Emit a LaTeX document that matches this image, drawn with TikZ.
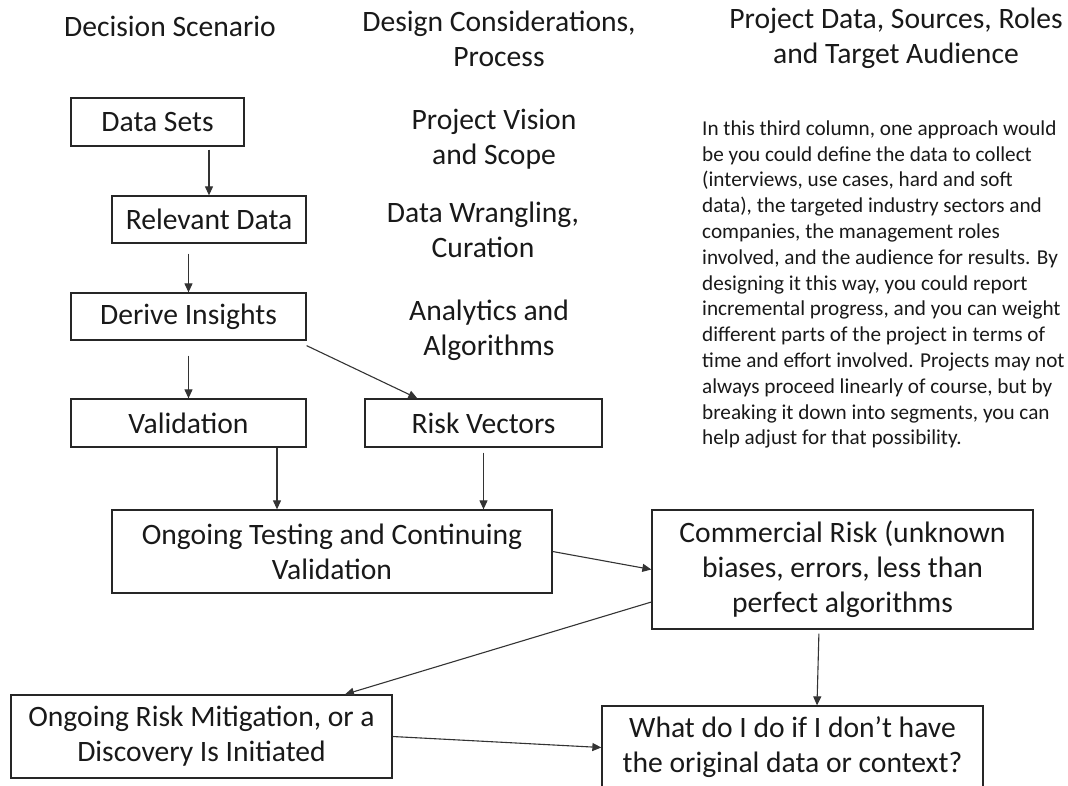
\documentclass[tikz,border=0pt]{standalone}
\usepackage{fontspec}
\setmainfont{Carlito}
\usetikzlibrary{arrows.meta,calc}

\begin{document}
\begin{tikzpicture}[x=1pt,y=-1pt,
  every node/.style={font=\fontsize{29.6}{35}\selectfont, text=black!90, inner sep=0pt},
  box/.style={draw=black!85, line width=1.3pt, align=center},
  arr/.style={draw=black!80, line width=1.1pt, -{Triangle[length=9pt,width=8pt]}},
  heading/.style={align=center},
  para/.style={font=\fontsize{21.2}{25.8}\selectfont, align=left, anchor=north west}
]
\useasboundingbox (0,0) rectangle (1068,785);
\clip (0,0) rectangle (1068,785);

% column headings
\node[heading] (h1) at (170,26) {Decision Scenario};
\node[heading] (h2) at (499,39) {Design Considerations,\\Process};
\node[heading] (h3) at (896,38) {Project Data, Sources, Roles\\and Target Audience};

% middle column: design considerations
\node[heading] (m1) at (494,139) {Project Vision\\and Scope};
\node[heading] (m2) at (483,230) {Data Wrangling,\\Curation};
\node[heading] (m3) at (489,330) {Analytics and\\Algorithms};

% right column: explanatory paragraph
\node[para] (notes) at (702,117) {\strut In this third column, one approach would\\
be you could define the data to collect\\
(interviews, use cases, hard and soft\\
data), the targeted industry sectors and\\
companies, the management roles\\
involved, and the audience for results. By\\
designing it this way, you could report\\
incremental progress, and you can weight\\
different parts of the project in terms of\\
time and effort involved. Projects may not\\
always proceed linearly of course, but by\\
breaking it down into segments, you can\\
help adjust for that possibility.};

% flow boxes
\node[box, minimum width=173pt, minimum height=48pt] (ds) at (157.5,122) {Data Sets};
\node[box, minimum width=194pt, minimum height=47pt] (rd) at (209,219.5) {Relevant Data};
\node[box, minimum width=235pt, minimum height=47pt] (di) at (188.5,316.5) {Derive Insights};
\node[box, minimum width=235pt, minimum height=48pt] (va) at (188.5,423) {Validation};
\node[box, minimum width=237pt, minimum height=48pt] (rv) at (483.5,423) {Risk Vectors};
\node[box, minimum width=440pt, minimum height=83pt] (ot) at (332,551.5) {Ongoing Testing and Continuing\\Validation};
\node[box, minimum width=381pt, minimum height=119pt] (cr) at (842.5,569.5) {Commercial Risk (unknown\\biases, errors, less than\\perfect algorithms};
\node[box, minimum width=381pt, minimum height=83pt] (rm) at (201.5,736.5) {Ongoing Risk Mitigation, or a\\Discovery Is Initiated};
\node[box, minimum width=381pt, minimum height=83pt] (wd) at (792.5,747.5) {What do I do if I don’t have\\the original data or context?};

% connectors
\coordinate (ds-out) at (ds.south -| rd.north);
\draw[arr, shorten <=3pt] (ds-out) -- (rd.north);
\coordinate (rd-out) at (rd.south -| di.north);
\draw[arr, shorten <=10pt] (rd-out) -- (di.north);
\draw[arr, shorten <=15pt] (di.south) -- (va.north);
\coordinate (di-out) at ([yshift=-5pt]di.south east);
\coordinate (rv-in) at ([xshift=53pt]rv.north west);
\draw[arr] (di-out) -- (rv-in);
\coordinate (va-out) at ([xshift=88.5pt]va.south);
\draw[arr] (va-out) -- (va-out |- ot.north);
\draw[arr, shorten <=5pt] (rv.south) -- (rv.south |- ot.north);
\draw[arr] (ot.east) -- (cr.west);
\coordinate (cr-out) at ([yshift=-32.5pt]cr.west);
\coordinate (rm-in) at ([xshift=143.5pt]rm.north);
\draw[arr] (cr-out) -- (rm-in);
\coordinate (cr-down) at ([xshift=-23.5pt]cr.south);
\coordinate (wd-in) at ([xshift=24.5pt]wd.north);
\draw[arr, shorten <=4pt] (cr-down) -- (wd-in);
\draw[arr] (rm.east) -- (wd.west);
\end{tikzpicture}
\end{document}
